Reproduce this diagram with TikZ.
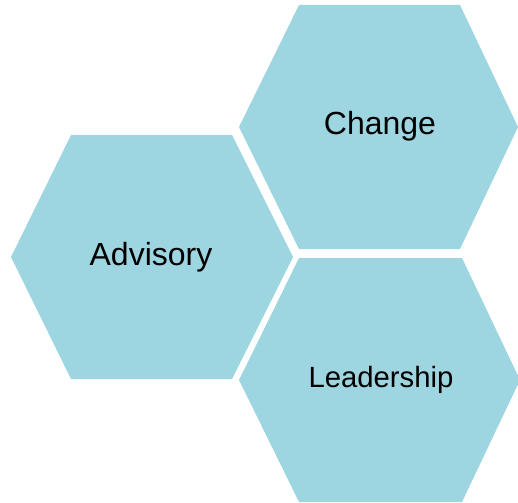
\documentclass[tikz,border=0pt]{standalone}
\usepackage{fontspec}
\setmainfont{Liberation Sans}
\definecolor{hexblue}{RGB}{157,213,225}
\begin{document}
\begin{tikzpicture}[x=1pt,y=-1pt,
  hex/.style={fill=hexblue,draw=none},
  lbl/.style={anchor=base,inner sep=0pt,font=\fontsize{32}{38}\selectfont,text=black}]
\useasboundingbox (0,0) rectangle (518,502);
% Change
\fill[hex] (299,5) -- (460,5) -- (518,127) -- (460,249) -- (299,249) -- (239,127) -- cycle;
% Advisory
\fill[hex] (71,135) -- (232,135) -- (293,257) -- (232,379) -- (71,379) -- (11,257) -- cycle;
% Leadership
\fill[hex] (299,258) -- (462,258) -- (520,380) -- (462,502) -- (299,502) -- (239,380) -- cycle;
\node[lbl] (change) at (380,135) {Change};
\node[lbl] (advisory) at (151,265) {Advisory};
\node[lbl,font=\fontsize{29.3}{35}\selectfont] (leadership) at (381,387) {Leadership};
\end{tikzpicture}
\end{document}
